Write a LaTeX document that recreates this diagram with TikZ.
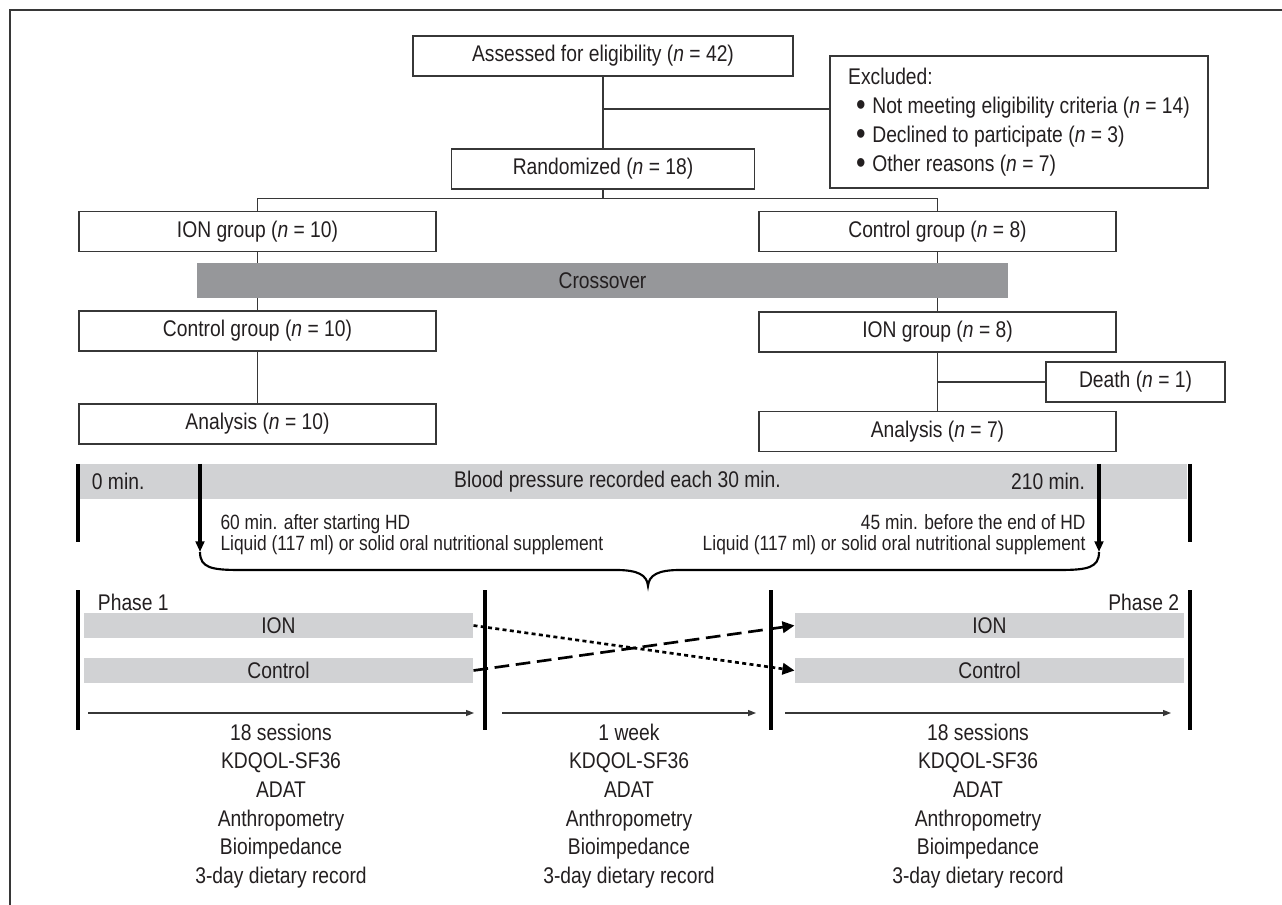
\documentclass[tikz,border=0pt]{standalone}
\usepackage{fontspec}
\setmainfont{Liberation Sans}[FakeStretch=0.85]
\newfontfamily\suppfont{Liberation Sans}[FakeStretch=0.84]
\usetikzlibrary{arrows.meta,calc}

\definecolor{txtc}{RGB}{35,31,32}
\definecolor{linec}{RGB}{55,55,55}
\definecolor{crossgray}{RGB}{150,151,154}
\definecolor{bargray}{RGB}{209,210,212}

\newcommand{\exclitem}{\hspace*{6pt}\raisebox{-1.5pt}{\fontsize{24}{0}\selectfont\textbullet}\hspace{5pt}}

\tikzset{every picture/.style={line width=0.75pt},
  every node/.style={font=\fontsize{17}{21.6}\selectfont, text=txtc},
  flowbox/.style={draw=linec, line width=0.9pt, fill=white, inner sep=0pt, minimum height=30pt},
  widebox/.style={flowbox, minimum width=267.75pt},
  graybar/.style={fill=bargray, inner sep=0pt, minimum width=291.75pt, minimum height=18.75pt},
  supptext/.style={font=\suppfont\fontsize{15.5}{18}\selectfont, inner sep=0pt},
  link/.style={draw=linec, line width=0.9pt},
  thickbar/.style={line width=3pt, black},
  droparrow/.style={line width=3pt, black, -{Triangle[width=6.5pt,length=8pt]}},
  timearrow/.style={line width=1pt, linec, -{Triangle[width=4.5pt,length=6pt]}},
  swaparrow/.style={line width=2pt, black, -{Triangle[width=8.5pt,length=9pt]}},
}

\begin{document}
\begin{tikzpicture}[x=0.75pt,y=0.75pt,yscale=-1,xscale=1]
	\useasboundingbox (0,0) rectangle (1282,905);
	
	%Frame
	\draw [line width=1.6pt, linec] (10,905) -- (10,10) -- (1282,10);
	
	%Shape: Rectangle
	\node [flowbox, minimum width=285pt] (assess) at (603,56) {Assessed for eligibility (\textit{n} = 42)};
	\node [flowbox, minimum width=227.25pt] (rand) at (603,169) {Randomized (\textit{n} = 18)};
	\node [flowbox, minimum width=283.5pt, minimum height=99pt, align=left, font=\fontsize{17}{21.75}\selectfont] (excl) at (1019,122) {Excluded:\\
		\exclitem Not meeting eligibility criteria (\textit{n} = 14)\\
		\exclitem Declined to participate (\textit{n} = 3)\\
		\exclitem Other reasons (\textit{n} = 7)};
	\node [widebox] (ion1) at (257.5,231.5) {ION group (\textit{n} = 10)};
	\node [widebox] (ctl1) at (937.5,231.5) {Control group (\textit{n} = 8)};
	\node [widebox] (ctl2) at (257.5,331) {Control group (\textit{n} = 10)};
	\node [widebox] (ion2) at (937.5,332) {ION group (\textit{n} = 8)};
	\node [widebox] (ana1) at (257.5,424) {Analysis (\textit{n} = 10)};
	\node [widebox] (ana2) at (937.5,431.5) {Analysis (\textit{n} = 7)};
	\node [flowbox, minimum width=134.25pt] (death) at (1135.5,382) {Death (\textit{n} = 1)};
	
	%Straight Lines
	\coordinate (exclbranch) at ($(assess.south)!0.45!(rand.north)$);
	\coordinate (split) at ($(rand.south)+(0,9)$);
	\draw [link] (assess) -- (rand);
	\draw [link] (exclbranch) -- (exclbranch -| excl.west);
	\draw [link] (rand.south) -- (split);
	\draw [link] (ion1.north) |- (split) -| (ctl1.north);
	\draw [link] (ion1) -- (ctl2);
	\draw [link] (ctl2) -- (ana1);
	\draw [link] (ctl1) -- (ion2);
	\draw [link] (ion2) -- (ana2);
	\draw [link] (ion2.south |- death.west) -- (death.west);
	
	%Crossover bar
	\node [fill=crossgray, inner sep=0pt, minimum width=608.25pt, minimum height=26.25pt] (cross) at (602.5,280.5) {Crossover};
	
	%Blood pressure bar
	\node [fill=bargray, inner sep=0pt, minimum width=830.25pt, minimum height=26.25pt] (bpbar) at (633.5,481.5) {};
	% Text Node
	\node (bptext) at (617.5,481.5) {Blood pressure recorded each 30 min.};
	\node [anchor=west] (t0) at (87,481.5) {0 min.};
	\node [anchor=east] (t210) at (1090,481.5) {210 min.};
	\draw [thickbar] (78,464) -- (78,542);
	\draw [thickbar] (1190,464) -- (1190,542);
	
	%Supplement arrows
	\coordinate (drop1top) at (200,464);
	\coordinate (drop1) at (200,552);
	\coordinate (drop2top) at (1099,464);
	\coordinate (drop2) at (1099,552);
	\draw [droparrow] (drop1top) -- (drop1);
	\draw [droparrow] (drop2top) -- (drop2);
	% Text Node
	\node [supptext, anchor=base west] (sup1a) at (220,529) {60 min. after starting HD};
	\node [supptext, anchor=base west] (sup1b) at (220,551) {Liquid (117 ml) or solid oral nutritional supplement};
	\node [supptext, anchor=base east] (sup2a) at (1086,529) {45 min. before the end of HD};
	\node [supptext, anchor=base east] (sup2b) at (1086,551) {Liquid (117 ml) or solid oral nutritional supplement};
	
	%Brace
	\coordinate (bracetip) at (648,586);
	\draw [line width=1.6pt, black] (drop1) .. controls (200,568) and (212,570) .. (240,570) -- (616,570) .. controls (638,570) and (647,575) .. (bracetip) .. controls (649,575) and (658,570) .. (680,570) -- (1059,570) .. controls (1087,570) and (1099,568) .. (drop2);
	
	%Phases
	\foreach \x in {78,485,771,1190}
		\draw [thickbar] (\x,590) -- (\x,730);
	\node [anchor=west] (ph1) at (93,602) {Phase 1};
	\node [anchor=east] (ph2) at (1184,602) {Phase 2};
	\node [graybar] (ionA) at (278.5,625.5) {ION};
	\node [graybar] (ctlA) at (278.5,670.5) {Control};
	\node [graybar] (ionB) at (989.5,625.5) {ION};
	\node [graybar] (ctlB) at (989.5,670.5) {Control};
	\draw [swaparrow, dash pattern=on 3pt off 2.5pt] (ionA.east) -- (ctlB.west);
	\draw [swaparrow, dash pattern=on 11pt off 5pt] (ctlA.east) -- (ionB.west);
	
	%Time arrows
	\foreach \a/\b/\n in {88/474/1, 502/756/2, 785/1171/3}{
		\coordinate (span\n s) at (\a,713);
		\coordinate (span\n e) at (\b,713);
		\draw [timearrow] (span\n s) -- (span\n e);
	}
	
	% Text Node
	\node [align=center, font=\fontsize{17}{21.45}\selectfont] (col1) at (281,806) {18 sessions\\KDQOL-SF36\\ADAT\\Anthropometry\\Bioimpedance\\3-day dietary record};
	\node [align=center, font=\fontsize{17}{21.45}\selectfont] (col2) at (629,806) {1 week\\KDQOL-SF36\\ADAT\\Anthropometry\\Bioimpedance\\3-day dietary record};
	\node [align=center, font=\fontsize{17}{21.45}\selectfont] (col3) at (978,806) {18 sessions\\KDQOL-SF36\\ADAT\\Anthropometry\\Bioimpedance\\3-day dietary record};
\end{tikzpicture}
\end{document}
